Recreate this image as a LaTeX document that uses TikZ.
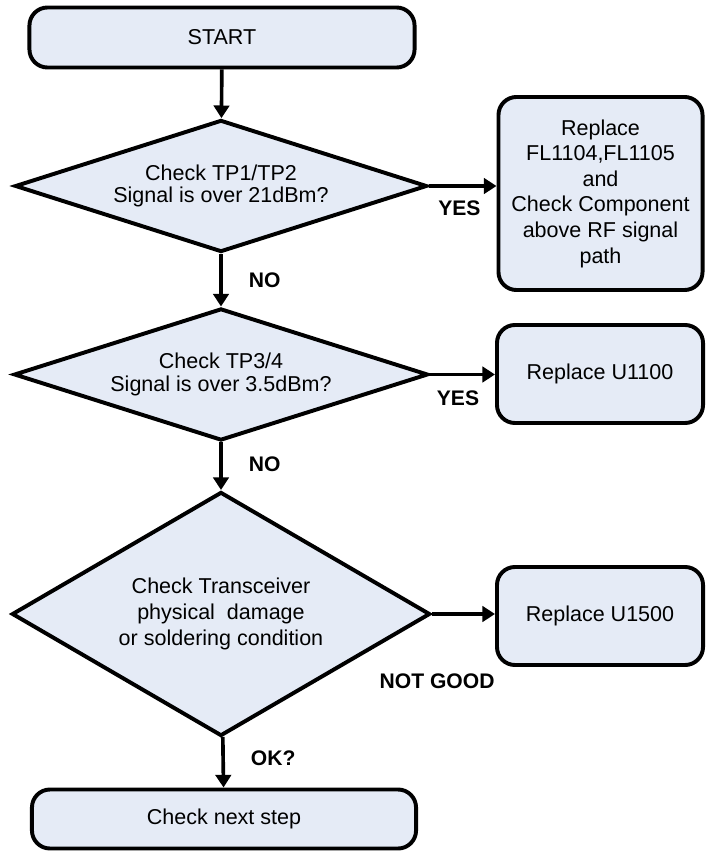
\documentclass[tikz,border=0pt]{standalone}
\usepackage{fontspec}
\setmainfont{Liberation Sans}
\usetikzlibrary{shapes.geometric, arrows.meta}
\definecolor{boxfill}{RGB}{229,235,246}

\begin{document}
\begin{tikzpicture}[x=0.025cm, y=-0.025cm,
  box/.style={draw, line width=2.8pt, fill=boxfill, rounded corners=0.45cm,
    align=center, inner sep=0pt, font=\fontsize{15.3}{18.2}\selectfont},
  decision/.style={draw, line width=2.8pt, fill=boxfill, diamond, aspect=3,
    align=center, inner sep=0pt, font=\fontsize{15.3}{18.2}\selectfont},
  flow/.style={line width=2.6pt, -{Triangle[length=9pt, width=11pt]}},
  lbl/.style={font=\fontsize{15}{18}\selectfont\bfseries, inner sep=0pt}]
  \useasboundingbox (0,0) rectangle (707,852);

  % Nodes
  \node[box, minimum width=9.625cm, minimum height=1.5cm] (start) at (222,37.5) {START};
  \node[decision, minimum width=10.3cm, minimum height=3.3cm,
    font=\fontsize{15.3}{15.6}\selectfont] (tp12) at (221,186) {Check TP1/TP2\\Signal is over 21dBm?};
  \node[box, minimum width=5.1cm, minimum height=4.825cm] (fl) at (600.5,193.5)
    {Replace\\FL1104,FL1105\\and\\Check Component\\above RF signal\\path};
  \node[decision, minimum width=10.35cm, minimum height=3.3cm,
    font=\fontsize{15.3}{16.5}\selectfont] (tp34) at (221,374.5) {Check TP3/4\\Signal is over 3.5dBm?};
  \node[box, minimum width=5.15cm, minimum height=2.45cm] (u1100) at (600,374) {Replace U1100};
  \node[decision, minimum width=10.35cm, minimum height=6.1cm] (trx) at (221,614)
    {Check Transceiver\\physical~ damage\\or soldering condition};
  \node[box, minimum width=5.15cm, minimum height=2.45cm] (u1500) at (600,616) {Replace U1500};
  \node[box, minimum width=9.6cm, minimum height=1.475cm] (next) at (224,819) {Check next step};

  % Arrows
  \draw[flow] (start) -- (tp12);
  \draw[flow] (tp12.east) -- (tp12.east -| fl.west)
    node[lbl, pos=0.45, below=0.33cm] {YES};
  \draw[flow] (tp12) -- (tp34) node[lbl, pos=0.5, right=0.65cm] {NO};
  \draw[flow] (tp34.east) -- (tp34.east -| u1100.west)
    node[lbl, pos=0.43, below=0.35cm] {YES};
  \draw[flow] (tp34) -- (trx) node[lbl, pos=0.45, right=0.65cm] {NO};
  \draw[flow] (trx.east) -- (trx.east -| u1500.west)
    node[lbl, pos=0.08, below=1.45cm] {NOT GOOD};
  \draw[flow] (trx) -- (next) node[lbl, pos=0.42, right=0.65cm] {OK?};
\end{tikzpicture}
\end{document}
